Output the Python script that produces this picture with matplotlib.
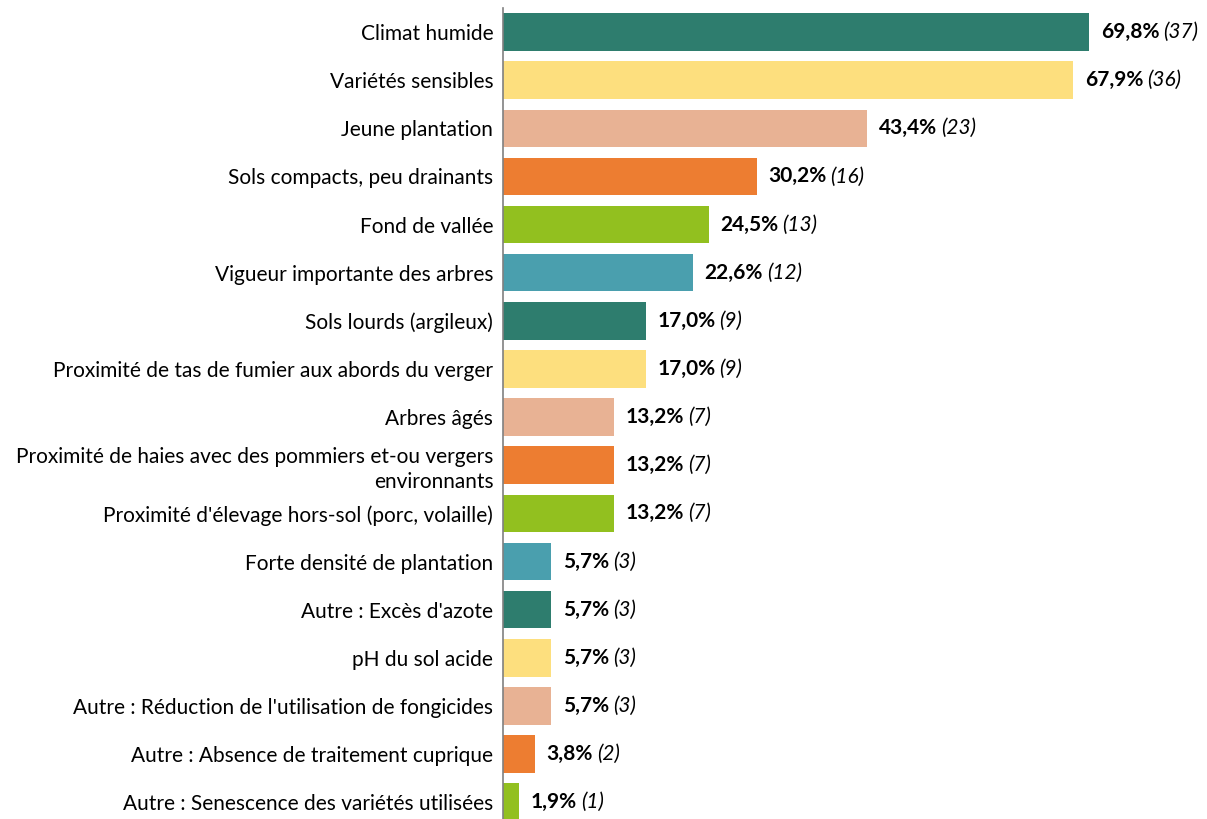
import matplotlib
matplotlib.use("Agg")
import matplotlib.pyplot as plt
from matplotlib.transforms import offset_copy

# categories, percentages and counts
categories = [
    "Climat humide",
    "Variétés sensibles",
    "Jeune plantation",
    "Sols compacts, peu drainants",
    "Fond de vallée",
    "Vigueur importante des arbres",
    "Sols lourds (argileux)",
    "Proximité de tas de fumier aux abords du verger",
    "Arbres âgés",
    "Proximité de haies avec des pommiers et-ou vergers\nenvironnants",
    "Proximité d'élevage hors-sol (porc, volaille)",
    "Forte densité de plantation",
    "Autre : Excès d'azote",
    "pH du sol acide",
    "Autre : Réduction de l'utilisation de fongicides",
    "Autre : Absence de traitement cuprique",
    "Autre : Senescence des variétés utilisées",
]
percents = [69.8, 67.9, 43.4, 30.2, 24.5, 22.6, 17.0, 17.0, 13.2, 13.2, 13.2,
            5.7, 5.7, 5.7, 5.7, 3.8, 1.9]
counts = [37, 36, 23, 16, 13, 12, 9, 9, 7, 7, 7, 3, 3, 3, 3, 2, 1]

palette = ["#2E7D6E", "#FDDF7E", "#E8B294", "#ED7D31", "#92C01F", "#4A9FAE"]

plt.rcParams['font.family'] = ['Lato', 'DejaVu Sans']

fig = plt.figure(figsize=(12.07, 8.19), dpi=100)
ax = fig.add_axes([503 / 1207, 0.0, 1 - 503 / 1207, 1 - 8 / 819])

ypos = list(range(len(categories)))
colors = [palette[i % len(palette)] for i in ypos]
ax.barh(ypos, percents, height=0.78, color=colors)

ax.set_xlim(0, (1207 - 503) / 8.395)
ax.set_ylim(16.35, -0.5)
ax.set_yticks(ypos)
ax.set_yticklabels(categories, fontsize=15, color="#000000", ha="right",
                   linespacing=1.3)
ax.tick_params(axis="y", length=0, pad=7)
ax.set_xticks([])
for side in ["top", "right", "bottom"]:
    ax.spines[side].set_visible(False)
ax.spines["left"].set_color("#808080")
ax.spines["left"].set_linewidth(1.2)

renderer = fig.canvas.get_renderer()
for y, p, c in zip(ypos, percents, counts):
    pct = f"{p:.1f}%".replace(".", ",")
    t = ax.text(p + 1.4, y, pct, va="center", ha="left", fontsize=15,
                fontweight="bold", color="#000000")
    w = t.get_window_extent(renderer=renderer).width
    tr = offset_copy(t.get_transform(), fig=fig, x=(w + 4) * 72 / fig.dpi,
                     y=0, units="points")
    ax.text(p + 1.4, y, f"({c})", va="center", ha="left", fontsize=15,
            fontstyle="italic", color="#000000", transform=tr)

fig.savefig("out.png", dpi=100)
